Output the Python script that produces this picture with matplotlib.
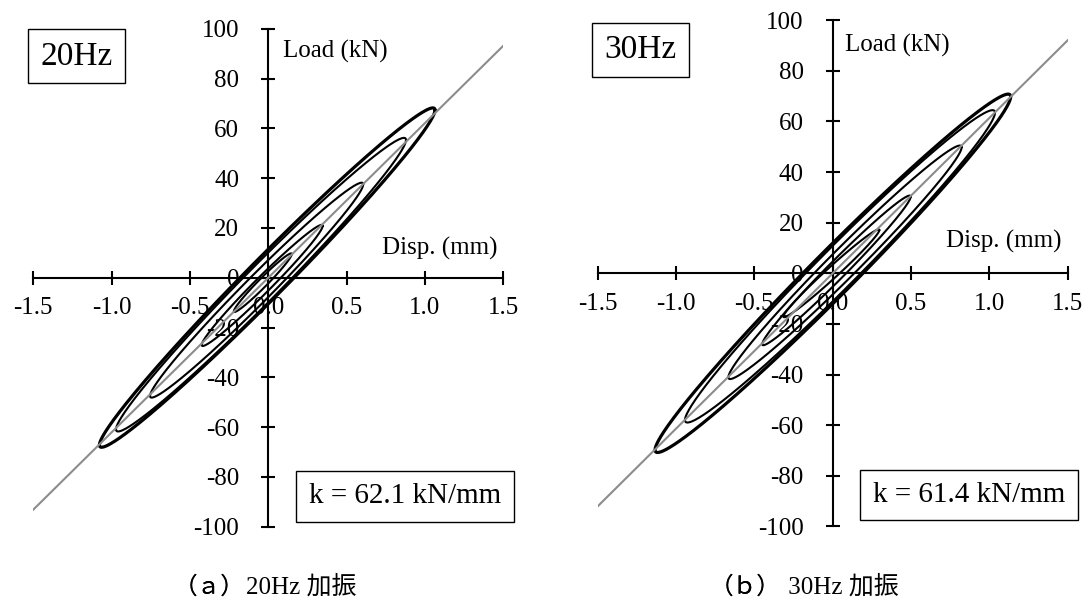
import numpy as np
import matplotlib
matplotlib.use("Agg")
import matplotlib.pyplot as plt
from matplotlib.patches import Rectangle

plt.rcParams["font.family"] = ["Liberation Serif", "Noto Sans CJK JP"]
plt.rcParams["axes.unicode_minus"] = False

# ---- data -------------------------------------------------------------
x_ticks = [-1.5, -1.0, -0.5, 0.0, 0.5, 1.0, 1.5]
x_tick_labels = ["-1.5", "-1.0", "-0.5", "0.0", "0.5", "1.0", "1.5"]
y_ticks = [-100, -80, -60, -40, -20, 0, 20, 40, 60, 80, 100]
y_tick_labels = [str(v) for v in y_ticks]

freq_labels = ["20Hz", "30Hz"]
captions = [("（ａ）", "20Hz 加振"), ("（ｂ）", " 30Hz 加振")]
stiffness = [62.1, 61.4]          # kN/mm

# 20 Hz loops: positive peak (disp, load), negative peak (disp, load),
# load offset of the branches at the loop centre
hz20_pos_disp = [1.064, 0.879, 0.606, 0.347, 0.15]
hz20_pos_load = [67.3, 55.3, 37.5, 20.8, 9.5]
hz20_neg_disp = [-1.078, -0.972, -0.755, -0.425, -0.22]
hz20_neg_load = [-67.2, -60.9, -47.5, -27.0, -13.5]
hz20_offset = [11.0, 10.0, 7.5, 4.5, 2.5]

# 30 Hz loops
hz30_pos_disp = [1.136, 1.036, 0.823, 0.498, 0.298]
hz30_pos_load = [69.8, 63.5, 49.8, 30.3, 17.1]
hz30_neg_disp = [-1.134, -0.943, -0.666, -0.45, -0.315]
hz30_neg_load = [-69.8, -58.0, -41.1, -28.0, -17.1]
hz30_offset = [12.0, 11.0, 8.0, 5.0, 3.0]

loops = [
    (hz20_pos_disp, hz20_pos_load, hz20_neg_disp, hz20_neg_load, hz20_offset),
    (hz30_pos_disp, hz30_pos_load, hz30_neg_disp, hz30_neg_load, hz30_offset),
]

# ---- layout (pixels, figure 1083 x 602) --------------------------------
W, H = 1083, 602
fig = plt.figure(figsize=(W / 100, H / 100), dpi=100)


def frac_rect(x0, y0, x1, y1):
    return [x0 / W, 1 - y1 / H, (x1 - x0) / W, (y1 - y0) / H]


axes_px = [(33.3, 28.7, 503.3, 526.7), (597.7, 20.3, 1067.7, 526.3)]
freq_box_px = [(27.6, 29.3, 124.8, 83.3), (591.7, 22.7, 689.0, 77.3)]
k_box_px = [(295.7, 471.0, 514.0, 521.7), (860.0, 470.0, 1078.0, 520.0)]
load_lbl = [(0.094, 90.8), (0.078, 90.2)]
disp_lbl = [(1.466, 11.9), (1.463, 12.5)]
caption_x = [174, 710]
caption_y = 587

for i in range(2):
    ax = fig.add_axes(frac_rect(*axes_px[i]))
    ax.set_xlim(-1.5, 1.5)
    ax.set_ylim(-100, 100)
    ax.patch.set_visible(False)
    for s in ("top", "right"):
        ax.spines[s].set_visible(False)
    ax.spines["left"].set_position("zero")
    ax.spines["bottom"].set_position("zero")
    for s in ("left", "bottom"):
        ax.spines[s].set_linewidth(1.5)
        ax.spines[s].set_zorder(1)
    ax.set_xticks(x_ticks)
    ax.set_xticklabels(x_tick_labels)
    ax.set_yticks(y_ticks)
    ax.set_yticklabels(y_tick_labels)
    ax.tick_params(axis="x", direction="inout", length=10, width=1.5,
                   pad=9, labelsize=18)
    ax.tick_params(axis="y", direction="inout", length=10, width=1.5,
                   pad=16, labelsize=18)

    # hysteresis loops
    pd, pl, nd, nl, off = loops[i]
    t = np.linspace(0, 2 * np.pi, 400)
    for j in range(len(pd)):
        c = (pd[j] + nd[j]) / 2
        a = (pd[j] - nd[j]) / 2
        m = (pl[j] + nl[j]) / 2
        b = (pl[j] - nl[j]) / 2
        x = c + a * np.cos(t)
        y = m + b * np.cos(t) + off[j] * np.sin(t)
        ax.plot(x, y, color="black", lw=2.3 if j == 0 else 1.5,
                zorder=3, solid_capstyle="round")

    # secant stiffness line
    xs = np.array([-1.5, 1.5])
    ax.plot(xs, stiffness[i] * xs, color="#8c8c8c", lw=1.5, zorder=4)

    ax.text(*load_lbl[i], "Load (kN)", ha="left", va="center", fontsize=18)
    ax.text(*disp_lbl[i], "Disp. (mm)", ha="right", va="center", fontsize=18)

    # frequency box
    x0, y0, x1, y1 = freq_box_px[i]
    fig.add_artist(Rectangle((x0 / W, 1 - y1 / H), (x1 - x0) / W, (y1 - y0) / H,
                             transform=fig.transFigure, fill=False,
                             edgecolor="black", lw=1.0))
    fig.text((x0 + x1) / 2 / W, 1 - (y0 + y1) / 2 / H, freq_labels[i],
             ha="center", va="center", fontsize=24)

    # stiffness box
    x0, y0, x1, y1 = k_box_px[i]
    fig.add_artist(Rectangle((x0 / W, 1 - y1 / H), (x1 - x0) / W, (y1 - y0) / H,
                             transform=fig.transFigure, fill=False,
                             edgecolor="black", lw=1.0))
    fig.text((x0 + x1) / 2 / W, 1 - (y0 + y1) / 2 / H,
             f"k = {stiffness[i]:.1f} kN/mm",
             ha="center", va="center", fontsize=21)

    # caption
    head, tail = captions[i]
    t1 = fig.text(caption_x[i] / W, 1 - caption_y / H, head, ha="left",
                  va="center", fontsize=17, family="Noto Sans CJK JP")
    fig.add_artist(t1)
    plt.annotate(tail, xy=(1, 0.5), xycoords=t1,
                 xytext=(1, 0), textcoords="offset pixels",
                 ha="left", va="center", fontsize=18, annotation_clip=False)

fig.savefig("out.png", dpi=100)
